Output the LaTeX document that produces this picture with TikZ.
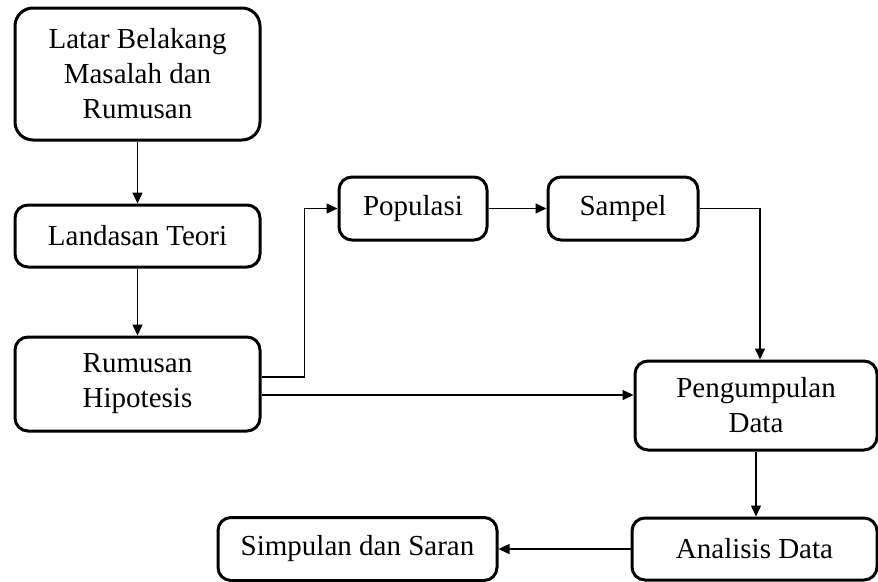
\documentclass[tikz,border=0pt]{standalone}
\usepackage{fontspec}
\setmainfont{Liberation Serif}
\usetikzlibrary{arrows.meta}
\begin{document}
\begin{tikzpicture}[x=1pt,y=-1pt,
  box/.style={draw=black, line width=3pt, rounded corners=13pt, fill=white,
    inner sep=0pt, align=center, font=\fontsize{29}{35}\selectfont},
  arr/.style={line width=1.5pt, -{Triangle[length=11pt,width=10pt]}}]
\useasboundingbox[fill=white] (0,0) rectangle (878,581);
\node[box, rounded corners=18pt, minimum width=245pt, minimum height=132pt] (b1) at (137.5,74) {Latar Belakang\\Masalah dan\\Rumusan};
\node[box, minimum width=245pt, minimum height=62pt] (b2) at (137.5,236) {Landasan Teori};
\node[box, minimum width=245pt, minimum height=94pt] (b3) at (137.5,384) {Rumusan\\Hipotesis};
\node[box, minimum width=148pt, minimum height=63pt] (pop) at (413,208.5) {Populasi};
\node[box, minimum width=150pt, minimum height=63pt] (sam) at (623,208.5) {Sampel};
\node[box, minimum width=242pt, minimum height=89pt] (pen) at (756,405.5) {Pengumpulan\\Data};
\node[box, minimum width=245pt, minimum height=62pt] (ana) at (754.5,549) {Analisis Data};
\node[box, minimum width=279pt, minimum height=63pt] (sim) at (357.5,549) {Simpulan dan Saran};
\draw[arr] (b1) -- (b2);
\draw[arr] (b2) -- (b3);
\draw[arr] ([yshift=7pt]b3.east) -- ++(43,0) |- (pop.west);
\draw[arr] (pop) -- (sam);
\draw[arr] (sam.east) -| ([xshift=4pt]pen.north);
\draw[arr] ([yshift=-11pt]b3.east) -- ([yshift=-11pt]b3.east -| pen.west);
\draw[arr] (pen.south) -- (pen.south |- ana.north);
\draw[arr] (ana.west) -- (ana.west -| sim.east);
\end{tikzpicture}
\end{document}
